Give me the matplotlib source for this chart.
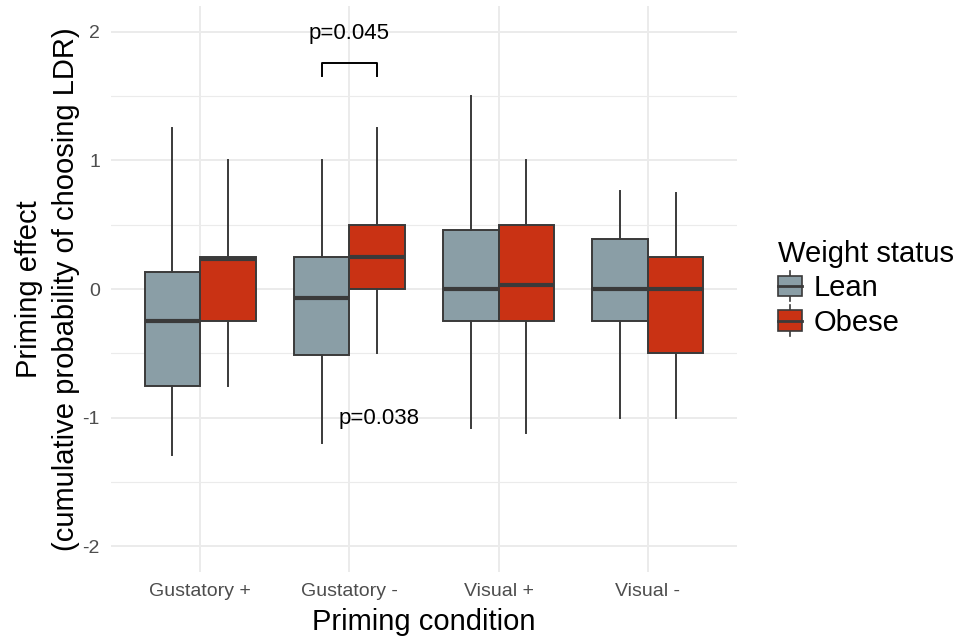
import numpy as np
import matplotlib
matplotlib.use("Agg")
import matplotlib.pyplot as plt
from matplotlib.patches import Rectangle, Patch
from matplotlib.lines import Line2D
from matplotlib.legend_handler import HandlerBase

plt.rcParams['font.family'] = ['Liberation Sans', 'DejaVu Sans']

# data
conditions = ["Gustatory +", "Gustatory -", "Visual +", "Visual -"]
groups = ["Lean", "Obese"]
colors = {"Lean": "#8A9EA6", "Obese": "#C93214"}

# box stats per group, one value per condition
lean_low = [-1.29, -1.20, -1.08, -1.00]
lean_q1 = [-0.75, -0.51, -0.25, -0.25]
lean_med = [-0.25, -0.07, 0.00, 0.00]
lean_q3 = [0.13, 0.25, 0.46, 0.39]
lean_high = [1.25, 1.00, 1.50, 0.76]

obese_low = [-0.75, -0.50, -1.12, -1.00]
obese_q1 = [-0.25, 0.00, -0.25, -0.50]
obese_med = [0.235, 0.25, 0.03, 0.00]
obese_q3 = [0.25, 0.50, 0.50, 0.25]
obese_high = [1.00, 1.25, 1.00, 0.745]

stats_by_group = {
    "Lean": (lean_low, lean_q1, lean_med, lean_q3, lean_high),
    "Obese": (obese_low, obese_q1, obese_med, obese_q3, obese_high),
}

# annotations
bracket_y = 1.76
bracket_tick = 0.1
p_top = "p=0.045"
p_bottom = "p=0.038"

edge = "#3A3A3A"
fig = plt.figure(figsize=(9.58, 6.38), dpi=100)
ax = fig.add_axes([111 / 958, 0.1034, 626 / 958, 0.887])

x = np.arange(1, len(conditions) + 1)
width = 0.375
offsets = {"Lean": -width / 2, "Obese": width / 2}

for g in groups:
    lo, q1, med, q3, hi = stats_by_group[g]
    stats = []
    for i in range(len(conditions)):
        stats.append({"whislo": lo[i], "q1": q1[i], "med": med[i],
                      "q3": q3[i], "whishi": hi[i], "fliers": []})
    ax.bxp(stats, positions=x + offsets[g], widths=width, patch_artist=True,
           showcaps=False, showfliers=False,
           boxprops=dict(facecolor=colors[g], edgecolor=edge, linewidth=1.4),
           whiskerprops=dict(color=edge, linewidth=1.4),
           medianprops=dict(color=edge, linewidth=3.0, solid_capstyle="butt"),
           manage_ticks=False, zorder=3)

# significance bracket
xl, xr = 2 + offsets["Lean"], 2 + offsets["Obese"]
ax.plot([xl, xl, xr, xr], [bracket_y - bracket_tick, bracket_y, bracket_y, bracket_y - bracket_tick],
        color="black", linewidth=1.4, zorder=4)
ax.text(2, 1.99, p_top, ha="center", va="center", fontsize=16, color="black")
ax.text(2.2, -1.01, p_bottom, ha="center", va="center", fontsize=16, color="black")

ax.set_xlim(0.4, 4.6)
ax.set_ylim(-2.2, 2.2)
ax.set_xticks(x)
ax.set_xticklabels(conditions)
ax.set_yticks([-2, -1, 0, 1, 2])
ax.set_yticklabels(["-2", "-1", "0", "1", "2"])
ax.set_yticks([-1.5, -0.5, 0.5, 1.5], minor=True)
ax.tick_params(axis="both", which="both", length=0, labelsize=14, labelcolor="#4D4D4D", pad=8)
ax.grid(True, which="major", color="#EBEBEB", linewidth=1.4, zorder=0)
ax.grid(True, which="minor", axis="y", color="#EBEBEB", linewidth=0.8, zorder=0)
ax.set_axisbelow(True)
for s in ax.spines.values():
    s.set_visible(False)

ax.set_xlabel("Priming condition", fontsize=21, labelpad=6)
ax.set_ylabel("Priming effect\n(cumulative probability of choosing LDR)", fontsize=21,
              linespacing=1.4, labelpad=2)


class BoxKey(HandlerBase):
    def create_artists(self, legend, orig, xd, yd, w, h, fontsize, trans):
        fc = orig.get_facecolor()
        pad = h * 0.25
        wl = Line2D([xd + w / 2, xd + w / 2], [yd - pad, yd + h + pad], color=edge, lw=1.2, transform=trans)
        box = Rectangle((xd, yd), w, h, facecolor=fc, edgecolor=edge, lw=1.2, transform=trans)
        med = Line2D([xd, xd + w], [yd + h / 2, yd + h / 2], color=edge, lw=2.0, transform=trans)
        return [wl, box, med]


handles = [Patch(facecolor=colors[g], edgecolor=edge) for g in groups]
leg = fig.legend(handles, groups, title="Weight status", loc="upper left",
                 bbox_to_anchor=(0.812, 0.624), frameon=False, fontsize=21, title_fontsize=21,
                 handler_map={Patch: BoxKey()}, handlelength=0.82, handleheight=0.7,
                 handletextpad=0.4, labelspacing=0.22, borderaxespad=0, borderpad=0)
leg._legend_box.align = "left"

fig.savefig("out.png", dpi=100)
